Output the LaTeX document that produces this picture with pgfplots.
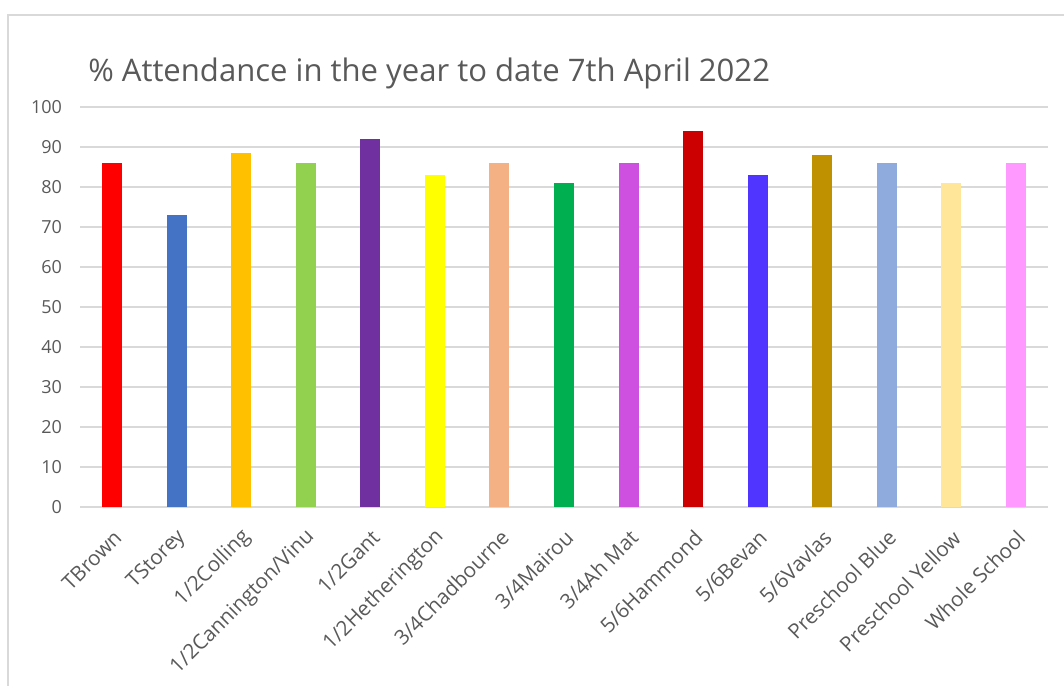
\documentclass[border=0pt]{standalone}
\usepackage{pgfplots}
\pgfplotsset{compat=1.18}
\usepackage{fontspec}
\setmainfont{Open Sans}
\definecolor{txt}{HTML}{595959}
\definecolor{gridc}{HTML}{D9D9D9}
\definecolor{c1}{HTML}{FF0000}
\definecolor{c2}{HTML}{4472C4}
\definecolor{c3}{HTML}{FFC000}
\definecolor{c4}{HTML}{92D050}
\definecolor{c5}{HTML}{7030A0}
\definecolor{c6}{HTML}{FFFF00}
\definecolor{c7}{HTML}{F4B183}
\definecolor{c8}{HTML}{00B050}
\definecolor{c9}{HTML}{CE50E0}
\definecolor{c10}{HTML}{CC0000}
\definecolor{c11}{HTML}{5034FF}
\definecolor{c12}{HTML}{BF9000}
\definecolor{c13}{HTML}{8FAADC}
\definecolor{c14}{HTML}{FFE699}
\definecolor{c15}{HTML}{FF99FF}
\begin{document}
\begin{tikzpicture}
\path[use as bounding box] (0pt,0pt) rectangle (798pt,514.5pt);
\draw[gridc, line width=1.5pt] (6pt,0pt) -- (6pt,503.25pt) -- (798pt,503.25pt);
\node[anchor=base west, text=txt, font=\fontsize{23.3}{26}\selectfont, inner sep=0pt] at (66pt,453.5pt) {\% Attendance in the year to date 7th April 2022};
\begin{axis}[
  at={(60pt,134.25pt)}, anchor=south west, scale only axis,
  width=726pt, height=300pt,
  xmin=-0.5, xmax=14.5, ymin=0, ymax=100,
  ytick={0,10,...,100},
  xtick={0,...,14},
  xticklabels={TBrown,TStorey,1/2Colling,1/2Cannington/Vinu,1/2Gant,1/2Hetherington,3/4Chadbourne,3/4Mairou,3/4Ah Mat,5/6Hammond,5/6Bevan,5/6Vavlas,Preschool Blue,Preschool Yellow,Whole School},
  ybar, bar width=15pt, bar shift=0pt,
  axis x line*=bottom, axis y line*=left,
  x axis line style={gridc, line width=1.1pt, -},
  y axis line style={draw=none},
  ymajorgrids, grid style={gridc, line width=1.1pt},
  major tick length=0pt,
  tick label style={text=txt, font=\fontsize{13.5}{15}\selectfont},
  yticklabel style={xshift=-10pt},
  xticklabel style={rotate=45, anchor=east, xshift=-8pt, yshift=-17.3pt, font=\fontsize{15.5}{17}\selectfont},
  /pgf/number format/assume math mode=true,
  clip=false,
]
\addplot[fill=c1, draw=none] coordinates {(0,86)};
\addplot[fill=c2, draw=none] coordinates {(1,73)};
\addplot[fill=c3, draw=none] coordinates {(2,88.5)};
\addplot[fill=c4, draw=none] coordinates {(3,86)};
\addplot[fill=c5, draw=none] coordinates {(4,92)};
\addplot[fill=c6, draw=none] coordinates {(5,83)};
\addplot[fill=c7, draw=none] coordinates {(6,86)};
\addplot[fill=c8, draw=none] coordinates {(7,81)};
\addplot[fill=c9, draw=none] coordinates {(8,86)};
\addplot[fill=c10, draw=none] coordinates {(9,94)};
\addplot[fill=c11, draw=none] coordinates {(10,83)};
\addplot[fill=c12, draw=none] coordinates {(11,88)};
\addplot[fill=c13, draw=none] coordinates {(12,86)};
\addplot[fill=c14, draw=none] coordinates {(13,81)};
\addplot[fill=c15, draw=none] coordinates {(14,86)};
\end{axis}
\end{tikzpicture}
\end{document}
